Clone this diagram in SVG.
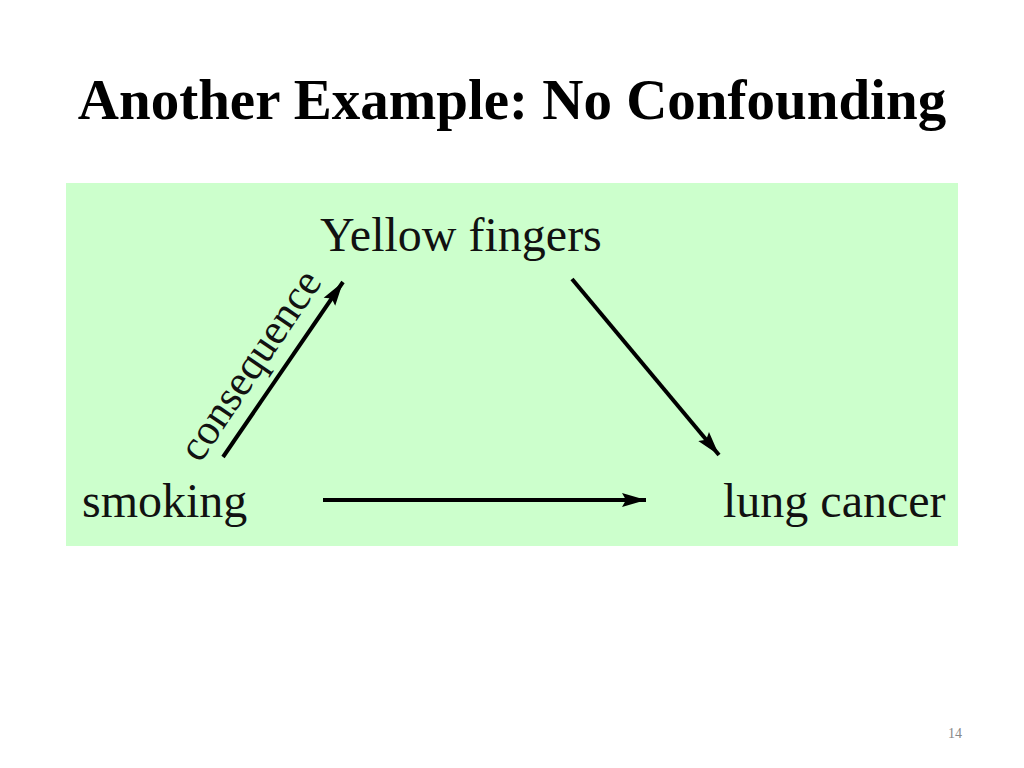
<svg xmlns="http://www.w3.org/2000/svg" width="1024" height="768" viewBox="0 0 1024 768">
<style>
.lbl{font-family:"Liberation Serif","Times New Roman",serif;font-size:48px;fill:#111;}
.title{font-family:"Liberation Serif","Times New Roman",serif;font-size:57px;font-weight:bold;fill:#000;}
.edge{stroke:#000;stroke-width:4;fill:none;}
</style>
<defs>
<marker id="ah" markerUnits="userSpaceOnUse" markerWidth="26" markerHeight="16" refX="24" refY="8" orient="auto">
<path d="M0,1 L24,8 L0,15 L4,8 Z" fill="#000"/>
</marker>
</defs>
<rect width="1024" height="768" fill="#ffffff"/>
<text class="title" x="512" y="119" text-anchor="middle">Another Example: No Confounding</text>
<rect x="66" y="183" width="892" height="363" fill="#ccffcc"/>
<g id="connectors">
<line class="edge" x1="223" y1="457" x2="343" y2="282" marker-end="url(#ah)"/>
<line class="edge" x1="572" y1="279" x2="719" y2="455" marker-end="url(#ah)"/>
<line class="edge" x1="323" y1="500" x2="646" y2="500" marker-end="url(#ah)"/>
<text class="lbl" style="font-size:43px" transform="translate(200,464) rotate(-56)">consequence</text>
</g>
<g id="node-yellow"><text class="lbl" x="320" y="251">Yellow fingers</text></g>
<g id="node-smoking"><text class="lbl" x="82" y="517">smoking</text></g>
<g id="node-lung"><text class="lbl" x="723" y="517">lung cancer</text></g>
<text x="962" y="738" text-anchor="end" font-family="Liberation Serif, serif" font-size="14" fill="#888">14</text>
</svg>
